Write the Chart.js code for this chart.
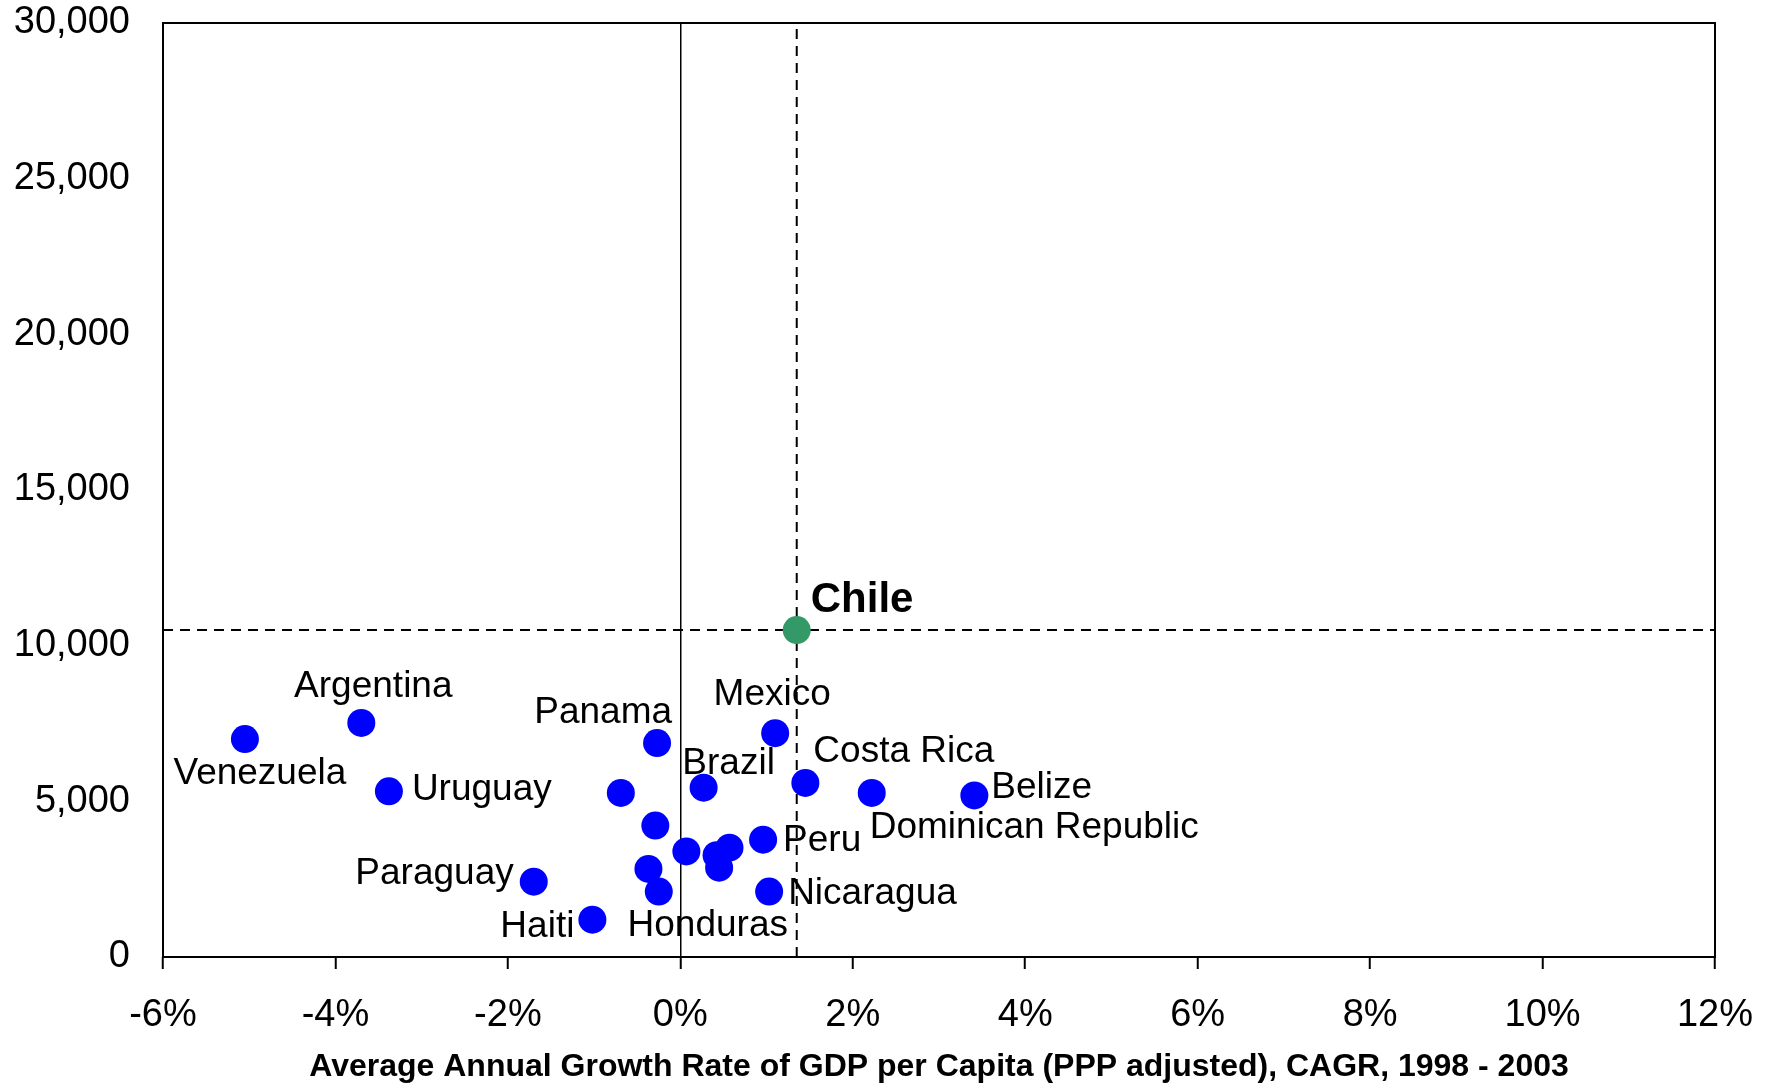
<!DOCTYPE html>
<html>
<head>
<meta charset="utf-8">
<title>GDP per Capita vs Growth, Latin America</title>
<script src="https://cdn.jsdelivr.net/npm/chart.js@4.4.1/dist/chart.umd.min.js"></script>
<style>
  html, body { margin: 0; padding: 0; background: #ffffff; }
  #wrap { width: 1771px; height: 1084px; }
</style>
</head>
<body>
<div id="wrap"><canvas id="chart" width="1771" height="1084"></canvas></div>
<script>
// Countries (blank name = point shown without a label)
const countries = [
  'Venezuela', 'Argentina', 'Uruguay', 'Paraguay', 'Haiti', 'Panama',
  '', '', '', 'Honduras', '', 'Brazil', '', '', '', 'Peru',
  'Nicaragua', 'Mexico', 'Costa Rica', 'Dominican Republic', 'Belize'
];
// Average annual GDP per capita growth, CAGR 1998-2003 (%)
const growthPct = [
  -5.05, -3.70, -3.38, -1.70, -1.02, -0.27,
  -0.69, -0.29, -0.37, -0.25, 0.07, 0.27, 0.42, 0.45, 0.57, 0.96,
  1.03, 1.10, 1.45, 2.22, 3.41
];
// GDP per capita, PPP adjusted (US$)
const gdpPerCapita = [
  7000, 7520, 5320, 2420, 1200, 6870,
  5270, 4220, 2830, 2100, 3390, 5440, 3270, 2870, 3510, 3770,
  2100, 7190, 5590, 5270, 5190
];
// Highlighted country; its values also set the dashed reference lines
const focusName = 'Chile';
const focusGrowth = 1.35;
const focusGdp = 10500;

const xTicks = [-6, -4, -2, 0, 2, 4, 6, 8, 10, 12];
const yTicks = [0, 5000, 10000, 15000, 20000, 25000, 30000];
const xTitle = 'Average Annual Growth Rate of GDP per Capita (PPP adjusted), CAGR, 1998 - 2003';

// Where each country name sits relative to its dot (pixels)
const labelPlacement = {
  'Venezuela':          { align: 'center', dx: 15,  dy: 45 },
  'Argentina':          { align: 'center', dx: 12,  dy: -26 },
  'Uruguay':            { align: 'left',   dx: 23,  dy: 9 },
  'Paraguay':           { align: 'right',  dx: -20, dy: 2 },
  'Haiti':              { align: 'right',  dx: -18, dy: 17 },
  'Panama':             { align: 'right',  dx: 15,  dy: -20 },
  'Honduras':           { align: 'center', dx: 49,  dy: 44 },
  'Brazil':             { align: 'center', dx: 25,  dy: -14 },
  'Peru':               { align: 'left',   dx: 20,  dy: 11 },
  'Nicaragua':          { align: 'left',   dx: 19,  dy: 12 },
  'Mexico':             { align: 'center', dx: -3,  dy: -28 },
  'Costa Rica':         { align: 'left',   dx: 8,   dy: -21 },
  'Dominican Republic': { align: 'left',   dx: -2,  dy: 45 },
  'Belize':             { align: 'left',   dx: 17,  dy: 3 },
  'Chile':              { align: 'left',   dx: 14,  dy: -18, size: 42, bold: true }
};

const FONT_FAMILY = '"Liberation Sans", Arial, Helvetica, sans-serif';
Chart.defaults.font.family = FONT_FAMILY;
Chart.defaults.color = '#000000';

const countryPoints = countries.map((name, i) => ({ x: growthPct[i], y: gdpPerCapita[i], name }));
const focusPoint = [{ x: focusGrowth, y: focusGdp, name: focusName }];

// Plot frame plus country name labels
const annotatePlugin = {
  id: 'annotate',
  afterDatasetsDraw(chart) {
    const { ctx, chartArea: a } = chart;
    ctx.save();
    ctx.strokeStyle = '#000000';
    ctx.lineWidth = 2;
    ctx.strokeRect(a.left, a.top, a.right - a.left, a.bottom - a.top);

    ctx.fillStyle = '#000000';
    ctx.textBaseline = 'alphabetic';
    chart.data.datasets.forEach((ds, di) => {
      if (!ds.labelled) return;
      const meta = chart.getDatasetMeta(di);
      meta.data.forEach((el, i) => {
        const name = ds.data[i].name;
        const p = labelPlacement[name];
        if (!name || !p) return;
        ctx.font = (p.bold ? 'bold ' : '') + (p.size || 37) + 'px ' + FONT_FAMILY;
        ctx.textAlign = p.align;
        ctx.fillText(name, el.x + p.dx, el.y + p.dy);
      });
    });
    ctx.restore();
  }
};

new Chart(document.getElementById('chart'), {
  type: 'scatter',
  data: {
    datasets: [
      {
        label: 'Countries',
        data: countryPoints,
        labelled: true,
        backgroundColor: '#0000FF',
        borderWidth: 0,
        pointRadius: 14,
        order: 2
      },
      {
        label: focusName,
        data: focusPoint,
        labelled: true,
        backgroundColor: '#339966',
        borderWidth: 0,
        pointRadius: 14,
        order: 1
      },
      {
        label: 'Focus growth',
        data: [{ x: focusGrowth, y: yTicks[0] }, { x: focusGrowth, y: yTicks[yTicks.length - 1] }],
        showLine: true,
        borderColor: '#000000',
        borderWidth: 2,
        borderDash: [10, 7],
        pointRadius: 0,
        order: 3
      },
      {
        label: 'Focus GDP',
        data: [{ x: xTicks[0], y: focusGdp }, { x: xTicks[xTicks.length - 1], y: focusGdp }],
        showLine: true,
        borderColor: '#000000',
        borderWidth: 2,
        borderDash: [10, 7],
        pointRadius: 0,
        order: 3
      }
    ]
  },
  options: {
    responsive: false,
    animation: false,
    events: [],
    layout: { padding: { top: 23, right: 56, left: 0, bottom: 0 } },
    plugins: {
      legend: { display: false },
      tooltip: { enabled: false }
    },
    scales: {
      x: {
        type: 'linear',
        min: xTicks[0],
        max: xTicks[xTicks.length - 1],
        afterBuildTicks: s => { s.ticks = xTicks.map(v => ({ value: v })); },
        afterFit: s => { s.height = 127; s.paddingLeft = 0; s.paddingRight = 0; },
        border: { display: false },
        grid: {
          drawOnChartArea: true,
          color: c => (c.tick && c.tick.value === 0 ? '#000000' : 'rgba(0,0,0,0)'),
          lineWidth: 1.5,
          drawTicks: true,
          tickLength: 12,
          tickColor: '#000000',
          tickWidth: 2
        },
        ticks: {
          padding: 24,
          maxRotation: 0,
          font: { size: 38 },
          color: '#000000',
          callback: v => v + '%'
        },
        title: {
          display: true,
          text: xTitle,
          font: { size: 32, weight: 'bold' },
          color: '#000000',
          padding: { top: 0, bottom: -2 }
        }
      },
      y: {
        type: 'linear',
        min: yTicks[0],
        max: yTicks[yTicks.length - 1],
        afterBuildTicks: s => { s.ticks = yTicks.map(v => ({ value: v })); },
        afterFit: s => { s.width = 163; s.paddingTop = 0; s.paddingBottom = 0; },
        border: { display: false },
        grid: { display: false, drawTicks: false },
        ticks: {
          padding: 33,
          font: { size: 38 },
          color: '#000000',
          callback: v => v.toLocaleString('en-US')
        }
      }
    }
  },
  plugins: [annotatePlugin]
});
</script>
</body>
</html>
